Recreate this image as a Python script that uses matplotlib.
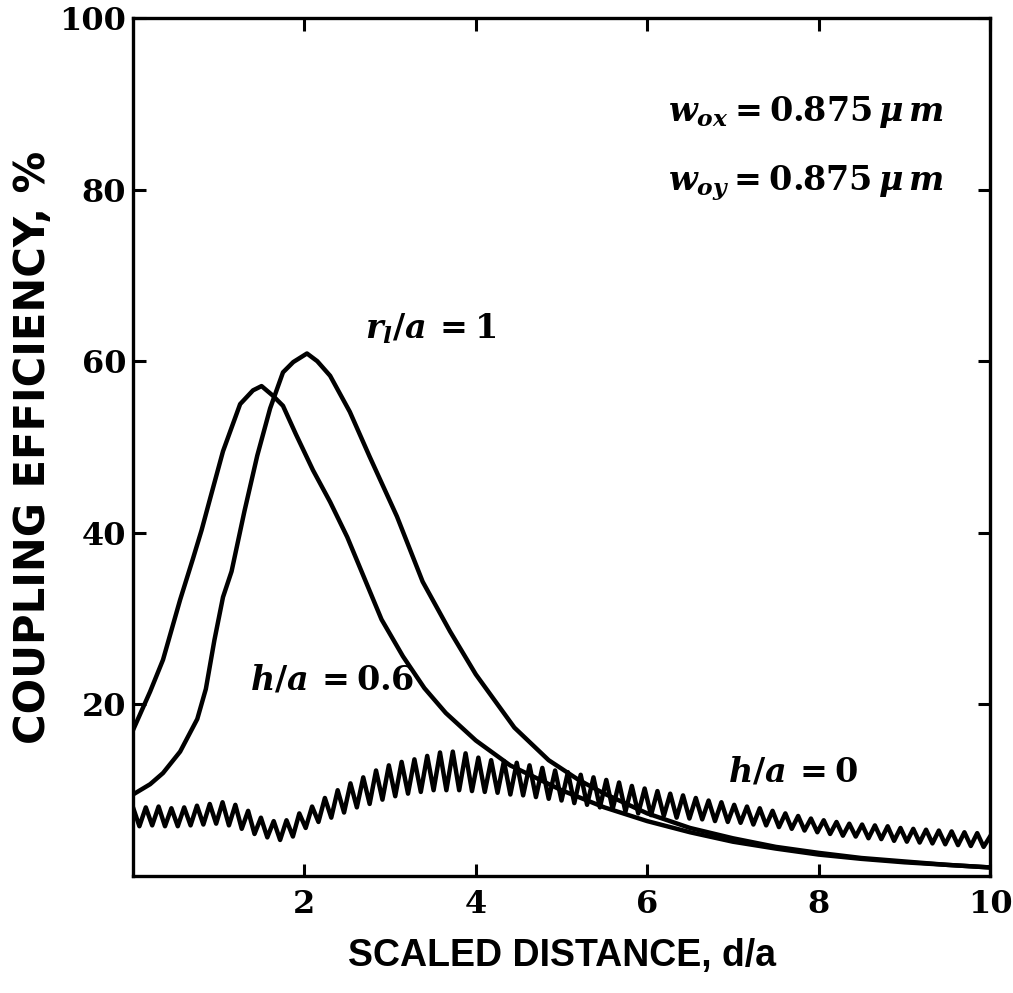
import numpy as np
import matplotlib
matplotlib.use("Agg")
import matplotlib.pyplot as plt

plt.rcParams['mathtext.fontset'] = 'custom'
plt.rcParams['mathtext.rm'] = 'DejaVu Serif:bold'
plt.rcParams['mathtext.it'] = 'DejaVu Serif:italic:bold'
plt.rcParams['mathtext.bf'] = 'DejaVu Serif:bold'

# ---- data ----
# h/a = 0.6 curve (peak near d/a = 1.5)
h06_x = [0, 0.2, 0.35, 0.55, 0.7, 0.8, 0.9, 1.05, 1.25, 1.4, 1.5, 1.63, 1.75, 1.9, 2.1, 2.3,
         2.5, 2.7, 2.9, 3.15, 3.4, 3.65, 4.0, 4.4, 5.0, 5.5, 6.0, 6.5, 7.0, 7.5, 8.0, 8.5,
         9.0, 9.5, 10.0]
h06_y = [17.0, 21.5, 25.2, 32.2, 37.0, 40.3, 44.0, 49.5, 55.0, 56.6, 57.1, 56.0, 54.8, 51.5,
         47.3, 43.6, 39.5, 34.7, 29.9, 25.6, 21.9, 19.0, 15.8, 12.9, 10.0, 8.0, 6.4, 5.1,
         4.0, 3.2, 2.5, 2.0, 1.6, 1.3, 1.0]

# r_l/a = 1 curve (peak near d/a = 2)
r1_x = [0, 0.2, 0.35, 0.55, 0.75, 0.85, 0.95, 1.05, 1.15, 1.3, 1.45, 1.6, 1.75, 1.87, 2.03,
        2.15, 2.3, 2.53, 2.76, 3.08, 3.38, 3.7, 4.0, 4.45, 4.85, 5.2, 5.5, 6.0, 6.5, 7.0,
        7.5, 8.0, 8.5, 9.0, 9.5, 10.0]
r1_y = [9.5, 10.7, 12.0, 14.5, 18.3, 21.8, 27.5, 32.5, 35.5, 42.5, 49.0, 54.5, 58.7, 59.9,
        60.9, 60.0, 58.3, 54.1, 48.9, 41.9, 34.3, 28.5, 23.5, 17.3, 13.5, 11.2, 9.6, 7.3,
        5.6, 4.4, 3.4, 2.7, 2.1, 1.7, 1.3, 1.0]

# h/a = 0 curve: successive peaks and troughs of the oscillation, left to right
h0_y = [8.0, 5.8, 8.0, 5.9, 8.1, 5.8, 7.9, 5.8, 8.0, 5.9,
        8.2, 6.0, 8.4, 6.1, 8.6, 5.9, 8.3, 5.5, 7.6, 4.9,
        6.8, 4.5, 6.4, 4.2, 6.5, 4.6, 7.3, 5.6, 8.1, 6.3,
        9.1, 6.8, 10.0, 7.4, 10.8, 8.0, 11.5, 8.4, 12.3, 8.9,
        12.9, 9.3, 13.3, 9.6, 13.6, 9.8, 14.0, 10.0, 14.4, 10.0,
        14.5, 10.0, 14.3, 9.9, 13.8, 9.8, 13.5, 9.7, 13.4, 9.5,
        13.2, 9.4, 12.9, 9.2, 12.6, 9.0, 12.3, 8.8, 12.1, 8.5,
        11.8, 8.3, 11.5, 8.0, 11.2, 7.8, 10.9, 7.5, 10.5, 7.3,
        10.2, 7.1, 9.9, 7.0, 9.6, 6.8, 9.4, 6.7, 9.1, 6.6,
        8.8, 6.4, 8.6, 6.3, 8.3, 6.2, 8.1, 6.0, 7.9, 5.9,
        7.6, 5.7, 7.3, 5.5, 7.0, 5.3, 6.7, 5.1, 6.5, 4.9,
        6.3, 4.7, 6.1, 4.6, 6.0, 4.4, 5.9, 4.3, 5.8, 4.1,
        5.6, 4.0, 5.5, 3.9, 5.4, 3.8, 5.3, 3.7, 5.2, 3.6,
        5.1, 3.5, 5.0, 3.4, 4.6]
h0_x = np.linspace(0, 10, len(h0_y))

x_ticks = [2, 4, 6, 8, 10]
y_ticks = [20, 40, 60, 80, 100]

# ---- figure ----
fig = plt.figure(figsize=(10.13, 9.93), dpi=100)
ax = fig.add_axes([0.1313, 0.1178, 0.8460, 0.8641])

lw = 3.2
ax.plot(h06_x, h06_y, color='black', lw=lw, solid_joinstyle='round')
ax.plot(r1_x, r1_y, color='black', lw=lw, solid_joinstyle='round')
ax.plot(h0_x, h0_y, color='black', lw=lw, solid_joinstyle='round')

ax.set_xlim(0, 10)
ax.set_ylim(0, 100)
ax.set_xticks(x_ticks)
ax.set_yticks(y_ticks)
ax.set_xticklabels([str(v) for v in x_ticks], fontfamily='DejaVu Serif', fontweight='bold', fontsize=23)
ax.set_yticklabels([str(v) for v in y_ticks], fontfamily='DejaVu Serif', fontweight='bold', fontsize=23)
ax.tick_params(direction='in', length=9, width=2.2, top=True, right=True)
ax.tick_params(axis='x', pad=9)
ax.tick_params(axis='y', pad=5)
for s in ax.spines.values():
    s.set_linewidth(2.4)

ax.set_xlabel('SCALED DISTANCE, d/a', fontfamily='Liberation Sans', fontweight='bold',
              fontsize=27, labelpad=13)
ax.set_ylabel('COUPLING EFFICIENCY, %', fontfamily='DejaVu Sans', fontweight='bold',
              fontsize=30, labelpad=4)

tfs = 24
ax.text(6.24, 89.1, r'$w_{ox} = \mathbf{0.875}\,\mu\, m$', fontsize=tfs, va='center', ha='left')
ax.text(6.24, 80.7, r'$w_{oy} = \mathbf{0.875}\,\mu\, m$', fontsize=tfs, va='center', ha='left')
ax.text(2.71, 63.8, r'$r_l/a\, = \mathbf{1}$', fontsize=tfs, va='center', ha='left')
ax.text(1.36, 22.9, r'$h/a\, = \mathbf{0.6}$', fontsize=tfs, va='center', ha='left')
ax.text(6.94, 12.1, r'$h/a\, = \mathbf{0}$', fontsize=tfs, va='center', ha='left')

fig.savefig('out.png', dpi=100)
